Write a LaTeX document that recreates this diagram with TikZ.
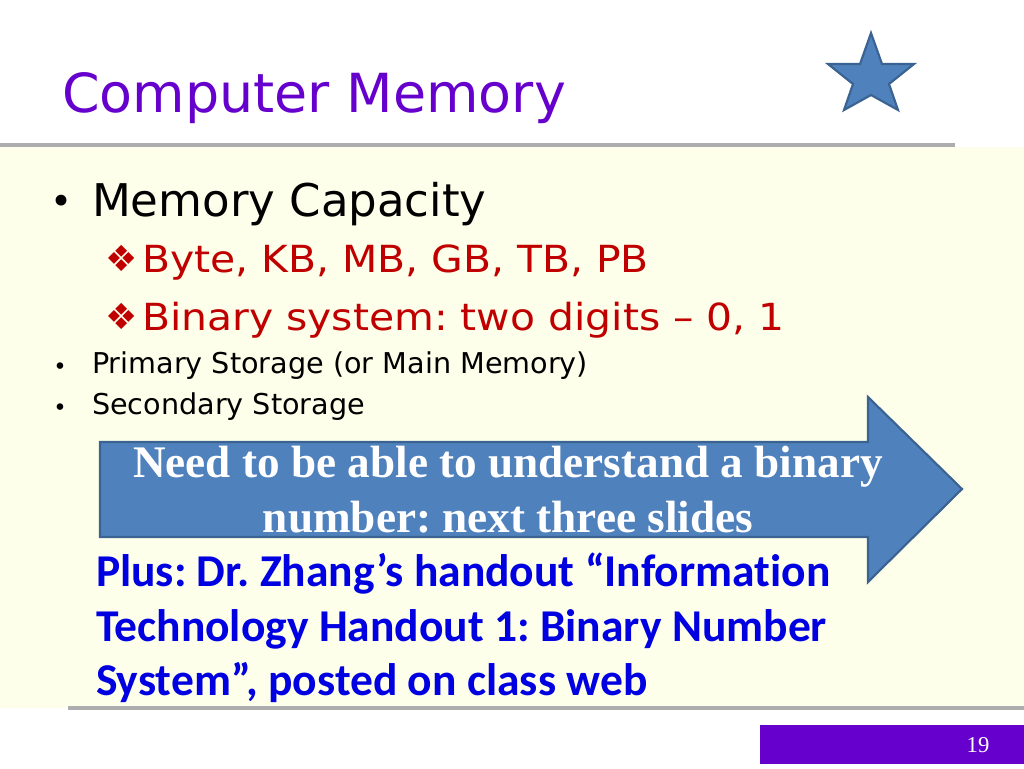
\documentclass[tikz,border=0pt]{standalone}
\usepackage{fontspec}
\setmainfont{DejaVu Sans}
\newfontfamily\blueface[Ligatures=NoCommon]{Carlito}
\newfontfamily\arrowface{Liberation Serif}
\newfontfamily\redface[FakeStretch=1.095]{DejaVu Sans}
\definecolor{ivorybg}{HTML}{FEFFEB}
\definecolor{titlepurple}{HTML}{6600CC}
\definecolor{rulegray}{HTML}{ADADAD}
\definecolor{shapeblue}{HTML}{4F81BD}
\definecolor{shapeedge}{HTML}{3A6391}
\definecolor{itemred}{HTML}{C00000}
\definecolor{linkblue}{HTML}{0000E0}
\tikzset{
  txt/.style={anchor=base west,inner sep=0pt,outer sep=0pt},
  shapefill/.style={fill=shapeblue,draw=shapeedge,line width=1.6pt,line join=miter},
  rulingline/.style={draw=rulegray,line width=2.4pt},
  lvlone/.style={txt,font=\fontsize{33.8}{40}\selectfont,text=black},
  lvltwo/.style={txt,font=\redface\fontsize{28}{32}\selectfont,text=itemred},
  diamondmark/.style={txt,font=\fontsize{27}{32}\selectfont,text=itemred},
  lvlsmall/.style={txt,font=\fontsize{21.5}{24}\selectfont,text=black},
  bigbullet/.style={txt,font=\fontsize{28}{32}\selectfont,text=black},
  smallbullet/.style={txt,font=\fontsize{17}{20}\selectfont,text=black},
  bluetxt/.style={txt,font=\blueface\bfseries\fontsize{34.15}{38}\selectfont,text=linkblue},
  arrowtxt/.style={anchor=base,inner sep=0pt,font=\arrowface\bfseries\fontsize{33.9}{38}\selectfont,text=white}
}
\begin{document}
\frenchspacing
\begin{tikzpicture}[x=0.75pt,y=-0.75pt]
\useasboundingbox (0,0) rectangle (1024,768);
\fill[white] (0,0) rectangle (1024,768);
\fill[ivorybg] (0,147) rectangle (1024,708);
\draw[rulingline] (0,145) -- (955,145);
\draw[rulingline] (68,708) -- (1024,708);
\node[txt,font=\fontsize{40.4}{46}\selectfont,text=titlepurple] (title) at (62,112) {Computer Memory};
\draw[shapefill] (871,33) -- (882,64) -- (914,64) -- (889,84) -- (898,110) -- (871,95) -- (844,110) -- (853,84) -- (828,64) -- (860,64) -- cycle;
\node[bigbullet] (b1) at (50,214) {•};
\node[lvlone] (t1) at (92,216) {Memory Capacity};
\node[diamondmark] (d1) at (105,271) {❖};
\node[lvltwo] (t2) at (142,272) {Byte, KB, MB, GB, TB, PB};
\node[diamondmark] (d2) at (105,329) {❖};
\node[lvltwo] (t3) at (142,330) {Binary system: two digits – 0, 1};
\node[smallbullet] (b2) at (53.3,374) {•};
\node[lvlsmall] (t4) at (92,373) {Primary Storage (or Main Memory)};
\node[smallbullet] (b3) at (53.3,415) {•};
\node[lvlsmall] (t5) at (92,414) {Secondary Storage};
\draw[shapefill] (100,442) -- (868,442) -- (868,397) -- (962,489) -- (868,582) -- (868,537) -- (100,537) -- cycle;
\node[arrowtxt] (a1) at (508,477) {Need to be able to understand a binary};
\node[arrowtxt] (a2) at (508,532) {number: next three slides};
\node[bluetxt] (p1) at (96,586) {Plus: Dr. Zhang’s handout “Information};
\node[bluetxt] (p2) at (96,641) {Technology Handout 1: Binary Number};
\node[bluetxt] (p3) at (96,695) {System”, posted on class web};
\fill[titlepurple] (760,725) rectangle (1024,764);
\node[anchor=base,inner sep=0pt,font=\arrowface\fontsize{17}{18}\selectfont,text=white] (num) at (978,752) {19};
\end{tikzpicture}
\end{document}
